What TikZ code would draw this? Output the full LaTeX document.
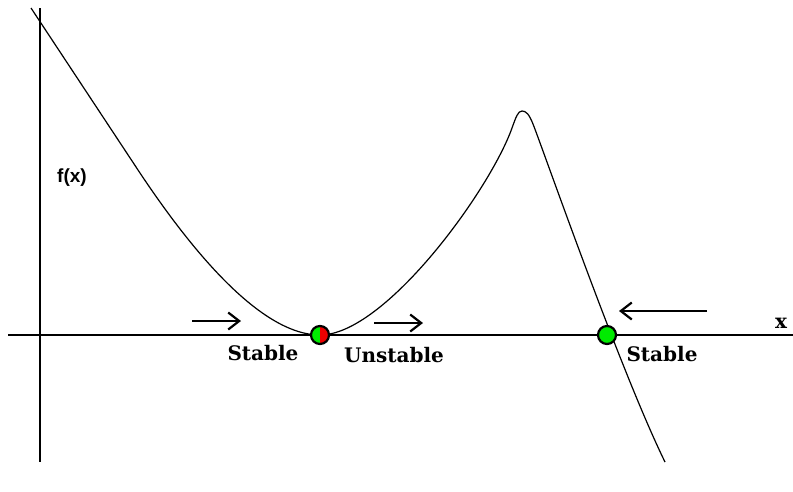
\documentclass[tikz,border=0pt]{standalone}
\usepackage{fontspec}
\setmainfont{DejaVu Serif}
\newfontfamily\fxfont{Liberation Sans}
\usetikzlibrary{arrows.meta}
\definecolor{ptgreen}{RGB}{0,235,0}
\definecolor{ptred}{RGB}{235,0,0}
\tikzset{
  axis/.style={line width=2.6pt, black},
  curve/.style={line width=1.2pt, black},
  flow/.style={line width=2.2pt, -{Straight Barb[length=11pt,width=17pt,line width=2.2pt]}},
  lbl/.style={font=\bfseries\fontsize{20}{20}\selectfont, inner sep=0pt},
}
\begin{document}
\begin{tikzpicture}[x=1pt,y=-1pt]
\useasboundingbox (0,0) rectangle (793,491);
\coordinate (xl) at (8,335);
\coordinate (xr) at (793,335);
\coordinate (yt) at (40,8);
\coordinate (yb) at (40,462);
\draw[axis] (xl) -- (xr);
\draw[axis] (yt) -- (yb);
\coordinate (c0) at (31,8);
\coordinate (c1) at (140,173);
\coordinate (p1) at (320,335);
\coordinate (c2) at (512,128);
\coordinate (pk) at (522,111);
\coordinate (c3) at (533,124);
\coordinate (c4) at (665,462);
\coordinate (p2) at (607,335);
\draw[curve] (c0) -- (c1)
  .. controls (190,248) and (260,335) .. (p1)
  .. controls (385,335) and (490,190) .. (c2)
  .. controls (516,117) and (518,111) .. (pk)
  .. controls (526,111) and (529,114) .. (c3)
  .. controls (544,152) and (620,370) .. (c4);
% equilibrium points
\begin{scope}
  \clip (p1) circle[radius=9];
  \fill[ptgreen] (p1) ++(-10,-10) rectangle ++(10,20);
  \fill[ptred] (p1) ++(0,-10) rectangle ++(10,20);
\end{scope}
\draw[line width=2.2pt] (p1) circle[radius=9];
\draw[line width=2.2pt, fill=ptgreen] (p2) circle[radius=9];
% arrows
\coordinate (a1s) at (192,321); \coordinate (a1e) at (241,321);
\coordinate (a2s) at (374,323); \coordinate (a2e) at (423,323);
\coordinate (a3s) at (707,311); \coordinate (a3e) at (619,311);
\draw[flow] (a1s) -- (a1e);
\draw[flow] (a2s) -- (a2e);
\draw[flow] (a3s) -- (a3e);
% labels
\node[lbl] (s1) at (263,353) {Stable};
\node[lbl] (u1) at (394,355) {Unstable};
\node[lbl] (s2) at (662,354) {Stable};
\node[lbl] (xlab) at (781,323) {x};
\node[inner sep=0pt, font=\fxfont\bfseries\fontsize{19}{19}\selectfont] (fx) at (72,178) {f(x)};
\end{tikzpicture}
\end{document}
